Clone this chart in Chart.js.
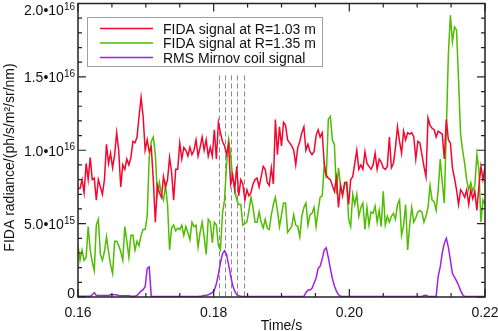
<!DOCTYPE html>
<html><head><meta charset="utf-8">
<script src="https://cdn.jsdelivr.net/npm/chart.js@4.4.1/dist/chart.umd.min.js"></script>
<style>html,body{margin:0;padding:0;background:#fff;}canvas{display:block;}</style>
</head><body>
<canvas id="c" width="498" height="331"></canvas>
<script>
// time axis (s)
const time = [
0.1600,0.1603,0.1606,0.1609,0.1612,0.1615,0.1618,0.1621,0.1624,0.1627,
0.1630,0.1633,0.1636,0.1639,0.1642,0.1645,0.1648,0.1651,0.1654,0.1657,
0.1660,0.1663,0.1666,0.1669,0.1672,0.1675,0.1678,0.1681,0.1684,0.1687,
0.1690,0.1693,0.1696,0.1699,0.1702,0.1705,0.1708,0.1711,0.1714,0.1717,
0.1720,0.1723,0.1726,0.1729,0.1732,0.1735,0.1738,0.1741,0.1744,0.1747,
0.1750,0.1753,0.1756,0.1759,0.1762,0.1765,0.1768,0.1771,0.1774,0.1777,
0.1780,0.1783,0.1786,0.1789,0.1792,0.1795,0.1798,0.1801,0.1804,0.1807,
0.1810,0.1813,0.1816,0.1819,0.1822,0.1825,0.1828,0.1831,0.1834,0.1837,
0.1840,0.1843,0.1846,0.1849,0.1852,0.1855,0.1858,0.1861,0.1864,0.1867,
0.1870,0.1873,0.1876,0.1879,0.1882,0.1885,0.1888,0.1891,0.1894,0.1897,
0.1900,0.1903,0.1906,0.1909,0.1912,0.1915,0.1918,0.1921,0.1924,0.1927,
0.1930,0.1933,0.1936,0.1939,0.1942,0.1945,0.1948,0.1951,0.1954,0.1957,
0.1960,0.1963,0.1966,0.1969,0.1972,0.1975,0.1978,0.1981,0.1984,0.1987,
0.1990,0.1993,0.1996,0.1999,0.2002,0.2005,0.2008,0.2011,0.2014,0.2017,
0.2020,0.2023,0.2026,0.2029,0.2032,0.2035,0.2038,0.2041,0.2044,0.2047,
0.2050,0.2053,0.2056,0.2059,0.2062,0.2065,0.2068,0.2071,0.2074,0.2077,
0.2080,0.2083,0.2086,0.2089,0.2092,0.2095,0.2098,0.2101,0.2104,0.2107,
0.2110,0.2113,0.2116,0.2119,0.2122,0.2125,0.2128,0.2131,0.2134,0.2137,
0.2140,0.2143,0.2146,0.2149,0.2152,0.2155,0.2158,0.2161,0.2164,0.2167,
0.2170,0.2173,0.2176,0.2179,0.2182,0.2185,0.2188,0.2191,0.2194,0.2197,
0.2200];

// FIDA radiance, units of 1e15 ph/s/m^2/sr/nm
const fidaR103 = [
7.4,7.4,8.0,7.1,9.1,8.0,9.5,8.0,8.1,6.6,
8.0,7.5,7.0,8.0,10.4,9.1,9.8,8.8,9.7,11.2,
10.0,7.5,9.0,8.7,9.4,9.0,9.5,10.6,10.5,10.9,
12.3,13.6,12.3,10.0,10.7,9.9,10.2,8.0,5.1,7.6,
7.1,6.8,8.2,7.5,8.0,9.5,8.5,6.6,8.7,8.7,
10.5,9.4,10.2,10.0,9.6,10.2,9.7,10.0,10.7,9.6,
10.2,10.9,10.0,10.7,9.6,10.2,9.6,11.4,9.4,11.9,
11.2,10.6,10.3,9.7,10.4,7.7,8.3,7.3,8.9,6.9,
8.0,7.7,6.6,7.3,6.9,7.1,7.7,8.0,8.1,7.5,
8.2,8.9,8.7,7.8,7.6,8.8,7.7,12.1,9.7,11.6,
10.3,11.9,11.7,10.7,10.5,10.3,10.0,9.0,10.2,10.6,
11.2,11.6,10.0,10.4,9.9,9.7,9.9,11.0,11.4,10.9,
11.2,9.1,8.3,8.1,8.0,7.6,7.2,8.1,6.1,7.6,
6.9,7.8,7.8,6.3,8.0,8.2,9.1,10.0,8.7,9.0,
8.7,9.9,9.1,8.9,8.7,9.0,9.8,8.7,9.4,9.2,
8.8,8.7,8.9,10.9,8.8,9.1,10.2,11.6,10.6,9.8,
11.3,10.7,11.2,11.1,11.2,10.9,9.4,10.6,10.5,9.7,
8.9,8.2,12.2,11.7,11.5,11.4,10.9,11.3,11.2,11.1,
9.4,12.1,10.7,10.5,8.8,8.1,7.3,6.3,7.3,7.1,
6.8,7.3,6.3,7.3,6.7,7.2,5.9,7.5,8.9,8.0,
8.9];

const fidaR135 = [
3.5,2.5,3.2,2.5,2.7,4.8,3.2,2.4,1.8,4.9,
5.3,2.9,2.5,3.1,4.1,3.1,2.2,1.6,3.8,3.8,
3.5,3.1,2.5,4.8,3.8,2.7,4.2,4.2,3.2,3.8,
3.5,4.2,4.6,4.6,5.5,9.5,10.6,10.9,9.7,7.0,
7.8,7.0,6.6,7.6,6.3,3.2,4.7,4.9,4.5,4.7,
4.6,4.9,4.2,4.8,4.4,3.9,5.1,4.8,4.9,3.4,
4.4,5.1,4.1,2.9,5.3,5.1,3.7,5.1,4.9,3.5,
3.2,5.7,6.6,9.0,10.7,9.7,8.1,7.4,6.6,6.3,
6.3,4.9,5.0,5.1,5.9,6.8,6.1,5.1,5.1,5.8,
5.1,4.7,5.3,4.7,4.6,5.6,6.3,6.8,5.9,4.8,
5.6,6.4,6.4,4.4,4.6,4.8,5.6,4.9,4.8,4.1,
5.5,6.1,6.4,4.9,5.6,5.7,6.1,4.8,5.9,6.8,
6.9,9.0,8.1,12.1,12.3,10.7,10.4,7.0,8.8,7.6,
7.0,7.6,7.8,5.3,4.8,7.0,6.3,7.0,5.5,6.1,
6.4,4.6,6.1,4.9,5.8,5.7,6.2,5.1,5.9,4.8,
7.2,4.9,5.5,5.1,5.5,5.7,5.3,6.3,6.6,4.2,
4.9,6.3,3.2,4.9,6.1,5.1,5.4,5.8,5.9,5.8,
5.1,5.5,6.1,7.6,6.6,6.5,5.9,7.3,9.4,7.8,
6.4,11.4,16.5,19.2,17.4,18.4,18.2,14.8,11.1,10.0,
9.1,8.0,7.3,7.8,7.2,7.6,9.7,8.7,5.1,6.6,
6.3];

const mirnovRMS = [
0.05,0.05,0.05,0.05,0.05,0.05,0.05,0.15,0.3,0.1,
0.1,0.1,0.1,0.1,0.1,0.1,0.15,0.15,0.15,0.15,
0.1,0.08,0.08,0.08,0.08,0.08,0.05,0.05,0.05,0.1,
0.25,0.4,0.5,0.7,1.95,2.05,0.05,0.03,0.03,0.03,
0.03,0.03,0.03,0.03,0.03,0.03,0.03,0.03,0.03,0.03,
0.03,0.03,0.03,0.03,0.03,0.03,0.03,0.03,0.03,0.03,
0.05,0.07,0.1,0.12,0.15,0.22,0.3,0.45,0.9,1.55,
2.35,2.95,3.15,2.9,2.2,1.45,0.8,0.4,0.15,0.08,
0.05,0.03,0.03,0.03,0.03,0.03,0.03,0.03,0.03,0.03,
0.03,0.03,0.03,0.03,0.03,0.03,0.03,0.03,0.03,0.03,
0.03,0.03,0.03,0.03,0.03,0.03,0.03,0.03,0.03,0.03,
0.03,0.05,0.3,0.48,0.48,0.6,0.94,1.3,1.95,2.1,
2.6,3.2,3.35,2.7,1.95,1.25,0.75,0.4,0.15,0.05,
0.03,0.03,0.03,0.03,0.03,0.03,0.03,0.03,0.03,0.03,
0.03,0.03,0.03,0.03,0.03,0.03,0.03,0.03,0.03,0.03,
0.03,0.03,0.03,0.03,0.03,0.03,0.03,0.03,0.03,0.03,
0.03,0.03,0.03,0.03,0.03,0.03,0.03,0.03,0.03,0.03,
0.1,0.12,0.05,0.03,0.03,0.03,0.05,1.4,2.05,3.0,
3.65,4.0,3.4,2.5,1.6,1.35,1.1,0.8,0.45,0.15,
0.03,0.03,0.03,0.03,0.03,0.03,0.03,0.03,0.03,0.03,
0.03];

const seriesLabels = ['FIDA signal at R=1.03 m', 'FIDA signal at R=1.35 m', 'RMS Mirnov coil signal'];
const seriesColors = ['#f5062f', '#4fbd00', '#a020f0'];

const xMajorTicks = [0.16, 0.18, 0.20, 0.22];
const xTickLabels = ['0.16', '0.18', '0.20', '0.22'];
const yMajorTicks = [0, 5, 10, 15, 20];          // in units of 1e15
const yTickMantissa = ['0', '5.0\u202210', '1.0\u202210', '1.5\u202210', '2.0\u202210'];
const yTickExponent = ['', '15', '16', '16', '16'];
const dashTimes = [0.1808, 0.1817, 0.1826, 0.1835, 0.1844];
const dashTopValue = 15.1;

const FONT = "'Liberation Sans', Arial, Helvetica, sans-serif";

function series(vals){ return vals.map((v,i)=>({x: time[i], y: v})); }

const decor = {
  id: 'decor',
  beforeDatasetsDraw(chart){
    const {ctx, scales:{x, y}} = chart;
    ctx.save();
    ctx.strokeStyle = '#8a8a8a'; ctx.lineWidth = 1; ctx.setLineDash([5,3]);
    dashTimes.forEach(t => {
      const px = Math.round(x.getPixelForValue(t)) + 0.5;
      ctx.beginPath();
      ctx.moveTo(px, y.getPixelForValue(dashTopValue));
      ctx.lineTo(px, y.getPixelForValue(0));
      ctx.stroke();
    });
    ctx.restore();
  },
  afterDraw(chart){
    const {ctx, chartArea:a, scales:{x, y}} = chart;
    ctx.save();
    // frame
    ctx.strokeStyle = '#222'; ctx.lineWidth = 1.5;
    ctx.strokeRect(a.left, a.top, a.right - a.left, a.bottom - a.top);
    // ticks (inward, all sides)
    ctx.lineWidth = 1.2;
    ctx.beginPath();
    for (let k = 0; k <= 12; k++) {
      const t = 0.16 + k * 0.005;
      const major = k % 4 === 0;
      const len = major ? 8 : 4;
      const px = x.getPixelForValue(t);
      ctx.moveTo(px, a.bottom); ctx.lineTo(px, a.bottom - len);
      ctx.moveTo(px, a.top); ctx.lineTo(px, a.top + len);
    }
    for (let v = 0; v <= 20; v++) {
      const major = v % 5 === 0;
      const len = major ? 8 : 4;
      const py = y.getPixelForValue(v);
      ctx.moveTo(a.left, py); ctx.lineTo(a.left + len, py);
      ctx.moveTo(a.right, py); ctx.lineTo(a.right - len, py);
    }
    ctx.stroke();

    // x tick labels
    ctx.fillStyle = '#111';
    ctx.font = '14px ' + FONT;
    ctx.textAlign = 'center'; ctx.textBaseline = 'alphabetic';
    xMajorTicks.forEach((t,i) => ctx.fillText(xTickLabels[i], x.getPixelForValue(t), 317));
    // x title
    ctx.fillText('Time/s', (a.left + a.right) / 2, 329.5);

    // y tick labels with superscript exponents
    yMajorTicks.forEach((v,i) => {
      const py = y.getPixelForValue(v);
      let base = Math.min(Math.max(py + 5.5, 15), a.bottom + 0.5);
      ctx.font = '10px ' + FONT;
      const ew = ctx.measureText(yTickExponent[i]).width;
      const right = 75;
      ctx.textAlign = 'left';
      if (yTickExponent[i]) ctx.fillText(yTickExponent[i], right - ew, base - 5.5);
      ctx.font = '14px ' + FONT;
      ctx.textAlign = 'right';
      ctx.fillText(yTickMantissa[i], right - ew, base);
    });

    // y title
    ctx.save();
    ctx.translate(14, 157.5);
    ctx.rotate(-Math.PI / 2);
    ctx.textAlign = 'center'; ctx.textBaseline = 'alphabetic';
    ctx.font = '14px ' + FONT;
    ctx.fillText('FIDA radiance/(ph/s/m\u00b2/sr/nm)', 0, 0);
    ctx.restore();

    // legend
    const lx = 87.5, ly = 17.5, lw = 235, lh = 49;
    ctx.fillStyle = '#fff';
    ctx.fillRect(lx, ly, lw, lh);
    ctx.strokeStyle = '#a0a0a0'; ctx.lineWidth = 1;
    ctx.strokeRect(lx, ly, lw, lh);
    const rows = [28.5, 43, 57.5];
    chart.data.datasets.forEach((ds, i) => {
      ctx.strokeStyle = ds.borderColor; ctx.lineWidth = 1.6;
      ctx.beginPath(); ctx.moveTo(100, rows[i]); ctx.lineTo(153, rows[i]); ctx.stroke();
      ctx.fillStyle = '#111';
      ctx.font = '14px ' + FONT;
      ctx.textAlign = 'left'; ctx.textBaseline = 'alphabetic';
      ctx.fillText(ds.label, 163, rows[i] + 5);
    });
    ctx.restore();
  }
};

new Chart(document.getElementById('c'), {
  type: 'line',
  data: {
    datasets: [fidaR103, fidaR135, mirnovRMS].map((vals, i) => ({
      label: seriesLabels[i],
      data: series(vals),
      borderColor: seriesColors[i],
      borderWidth: 1.5,
      pointRadius: 0,
      tension: 0,
      fill: false
    }))
  },
  options: {
    responsive: false,
    animation: false,
    devicePixelRatio: 1,
    layout: { padding: { left: 78, right: 13, top: 3.5, bottom: 34 } },
    plugins: { legend: { display: false }, tooltip: { enabled: false } },
    scales: {
      x: { type: 'linear', min: 0.16, max: 0.22, display: false },
      y: { type: 'linear', min: 0, max: 20, display: false }
    }
  },
  plugins: [decor]
});
</script>
</body></html>
